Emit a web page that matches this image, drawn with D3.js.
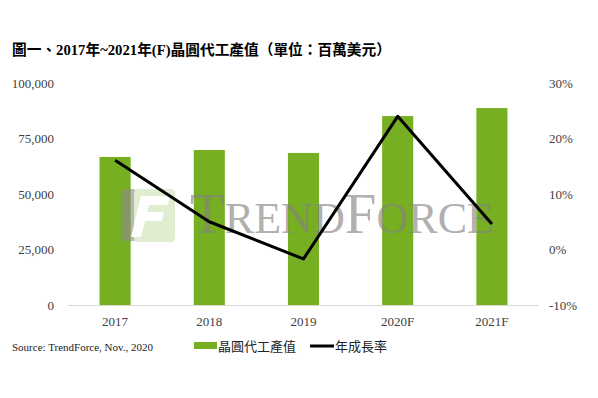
<!DOCTYPE html>
<html><head><meta charset="utf-8">
<script src="https://cdn.jsdelivr.net/npm/d3@7"></script>
<style>body{margin:0;background:#fff}svg{display:block}</style>
</head><body>
<script>
const categories = ["2017","2018","2019","2020F","2021F"];
const revenue = [66700, 69800, 68500, 85100, 88700];
const growth = [16.1, 5.0, -1.7, 24.0, 4.6];
const leftTicks = [0, 25000, 50000, 75000, 100000];
const rightTicks = [-10, 0, 10, 20, 30];
const title = "圖一、2017年~2021年(F)晶圓代工產值（單位：百萬美元）";
const source = "Source: TrendForce, Nov., 2020";
const legendNames = ["晶圓代工產值", "年成長率"];

const W = 598, H = 398;
const serif = "'Liberation Serif','Times New Roman',serif";
const cjk = "'Noto Sans CJK TC','Noto Sans CJK SC',sans-serif";
const svg = d3.select("body").append("svg").attr("width", W).attr("height", H);

const m = {left: 68, right: 539, top: 83, bottom: 305};
const x = d3.scaleBand().domain(categories).range([m.left, m.right]).paddingInner(0.67).paddingOuter(0.335);
const yL = d3.scaleLinear().domain([0, 100000]).range([m.bottom, m.top]);
const yR = d3.scaleLinear().domain([-10, 30]).range([m.bottom, m.top]);

// title
svg.append("text").attr("x", 12).attr("y", 55)
  .attr("font-family", serif + "," + cjk).attr("font-weight", "bold").attr("font-size", 14.7)
  .attr("fill", "#000").text(title);

// bars
svg.append("g").selectAll("rect").data(categories).join("rect")
  .attr("x", d => x(d)).attr("width", x.bandwidth())
  .attr("y", (d, i) => yL(revenue[i])).attr("height", (d, i) => yL(0) - yL(revenue[i]))
  .attr("fill", "#76AF22");

// watermark (on top of bars, translucent)
const wm = svg.append("g").attr("opacity", 0.62);
wm.append("rect").attr("x", 122).attr("y", 189).attr("width", 14).attr("height", 52).attr("rx", 3).attr("fill", "#8f8a87");
wm.append("rect").attr("x", 134).attr("y", 189).attr("width", 41).attr("height", 53).attr("rx", 4).attr("fill", "#cfe3b4");
wm.append("path").attr("d", "M141,196 L170,196 L168,205 L149,205 L147,212 L164,212 L162,221 L145,221 L141,237 L131,237 Z").attr("fill", "#ffffff");
const wt = wm.append("text").attr("x", 190).attr("y", 233).attr("font-family", serif)
  .attr("fill", "#858080").attr("textLength", 304).attr("lengthAdjust", "spacingAndGlyphs");
wt.append("tspan").attr("font-size", 58).text("T");
wt.append("tspan").attr("font-size", 45).text("REND");
wt.append("tspan").attr("font-size", 58).text("F");
wt.append("tspan").attr("font-size", 45).text("ORCE");

// baseline axis
svg.append("line").attr("x1", m.left).attr("x2", m.right).attr("y1", yL(0) + 0.5).attr("y2", yL(0) + 0.5)
  .attr("stroke", "#d9d9d9").attr("stroke-width", 1);

// left axis
const gL = svg.append("g").attr("transform", `translate(${m.left - 14},0)`)
  .call(d3.axisLeft(yL).tickValues(leftTicks).tickFormat(d3.format(",")).tickSize(0).tickPadding(0));
gL.select(".domain").remove();
gL.selectAll("text").attr("font-family", serif).attr("font-size", 13).attr("fill", "#404040");

// right axis
const gR = svg.append("g").attr("transform", `translate(${m.right + 10},0)`)
  .call(d3.axisRight(yR).tickValues(rightTicks).tickFormat(d => d + "%").tickSize(0).tickPadding(0));
gR.select(".domain").remove();
gR.selectAll("text").attr("font-family", serif).attr("font-size", 13).attr("fill", "#404040");

// x axis labels
const gX = svg.append("g").attr("transform", `translate(0,${m.bottom + 10})`)
  .call(d3.axisBottom(x).tickSize(0).tickPadding(0));
gX.select(".domain").remove();
gX.selectAll("text").attr("font-family", serif).attr("font-size", 13).attr("fill", "#404040").attr("dy", "0.85em");

// growth line
svg.append("path").datum(growth)
  .attr("d", d3.line().x((d, i) => x(categories[i]) + x.bandwidth() / 2).y(d => yR(d)))
  .attr("fill", "none").attr("stroke", "#000").attr("stroke-width", 3).attr("stroke-linejoin", "round");

// source
svg.append("text").attr("x", 12).attr("y", 351).attr("font-family", serif).attr("font-size", 11)
  .attr("fill", "#222").text(source);

// legend
svg.append("rect").attr("x", 194).attr("y", 342).attr("width", 23).attr("height", 7).attr("fill", "#76AF22");
svg.append("text").attr("x", 218).attr("y", 351).attr("font-family", cjk).attr("font-size", 13).attr("fill", "#222").text(legendNames[0]);
svg.append("line").attr("x1", 310).attr("x2", 334).attr("y1", 346).attr("y2", 346).attr("stroke", "#000").attr("stroke-width", 3);
svg.append("text").attr("x", 335).attr("y", 351).attr("font-family", cjk).attr("font-size", 13).attr("fill", "#222").text(legendNames[1]);
</script>
</body></html>
